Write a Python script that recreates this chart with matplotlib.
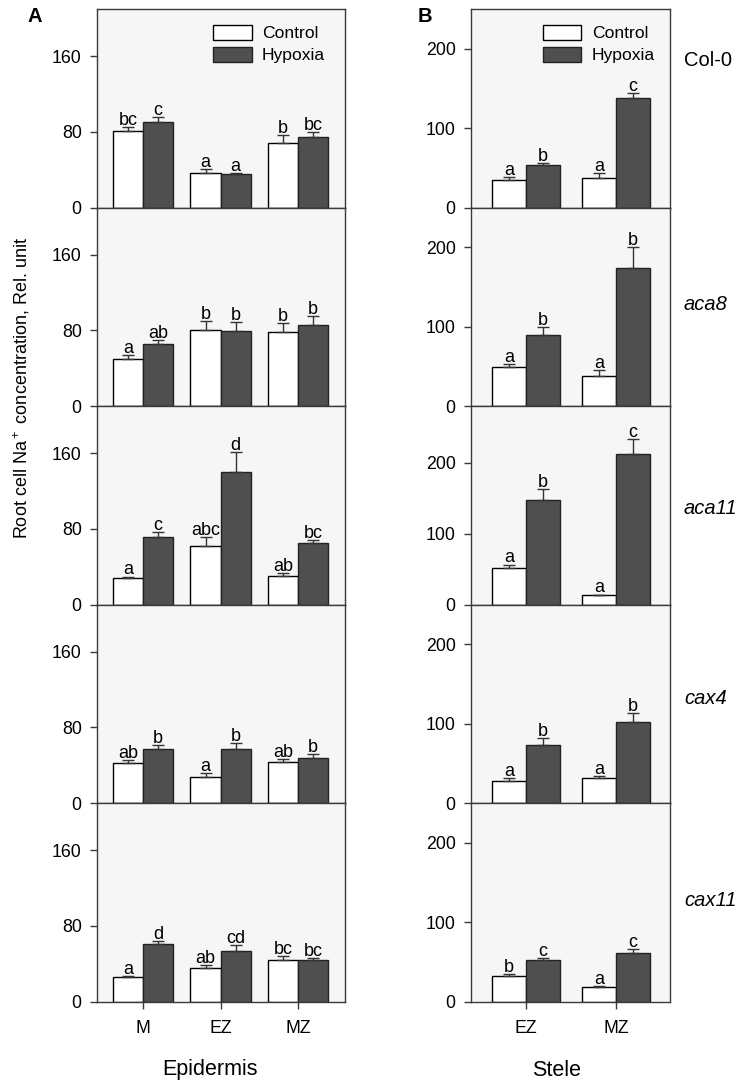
import matplotlib
matplotlib.use("Agg")
import matplotlib.pyplot as plt
from matplotlib.patches import Patch
import numpy as np

plt.rcParams['font.family'] = ['Liberation Sans', 'DejaVu Sans']
plt.rcParams['mathtext.default'] = 'regular'

# data
genotypes = ['Col-0', 'aca8', 'aca11', 'cax4', 'cax11']
epi_zones = ['M', 'EZ', 'MZ']
stele_zones = ['EZ', 'MZ']

epi_ctrl = [[81.4, 36.9, 67.9], [49.7, 80.3, 78.2], [27.6, 62.1, 30.4], [42.0, 27.6, 43.1], [25.6, 35.2, 43.7]]
epi_ctrl_err = [[4.2, 3.6, 8.5], [4.0, 9.5, 10.0], [2.0, 9.0, 3.0], [3.5, 3.9, 3.2], [1.0, 3.2, 4.3]]
epi_hyp = [[90.7, 35.2, 75.0], [66.0, 79.0, 85.6], [71.0, 140.0, 65.4], [57.2, 57.2, 47.7], [60.8, 52.9, 44.4]]
epi_hyp_err = [[5.0, 1.5, 5.0], [4.2, 10.0, 9.5], [5.7, 21.0, 2.6], [4.3, 5.8, 4.3], [2.8, 6.4, 1.8]]
epi_let_ctrl = [['bc', 'a', 'b'], ['a', 'b', 'b'], ['a', 'abc', 'ab'], ['ab', 'a', 'ab'], ['a', 'ab', 'bc']]
epi_let_hyp = [['c', 'a', 'bc'], ['ab', 'b', 'b'], ['c', 'd', 'bc'], ['b', 'b', 'b'], ['d', 'cd', 'bc']]

ste_ctrl = [[35.2, 37.2], [48.8, 38.3], [50.8, 13.1], [27.4, 31.1], [32.3, 18.0]]
ste_ctrl_err = [[3.0, 6.0], [3.8, 6.7], [5.6, 1.0], [4.0, 2.5], [2.0, 1.7]]
ste_hyp = [[53.2, 138.4], [89.2, 173.3], [147.7, 212.7], [72.8, 101.4], [51.7, 60.9]]
ste_hyp_err = [[2.5, 6.0], [9.7, 26.5], [15.5, 20.7], [8.8, 11.8], [3.3, 4.7]]
ste_let_ctrl = [['a', 'a'], ['a', 'a'], ['a', 'a'], ['a', 'a'], ['b', 'a']]
ste_let_hyp = [['b', 'c'], ['b', 'b'], ['b', 'c'], ['b', 'b'], ['c', 'c']]

epi_ylim = [210, 210, 210, 210, 210]
ste_ylim = [250, 250, 280, 250, 250]

W, H = 742, 1087
fig = plt.figure(figsize=(W / 100, H / 100), dpi=100)
fig.patch.set_facecolor('white')

top_px = 9
panel_h = 198.5
ctrl_col = 'white'
hyp_col = '#4f4f4f'
spine_col = '#3a3a3a'
face = '#f6f6f6'


def draw_panel(ax, ctrl, cerr, hyp, herr, lc, lh, width):
    x = np.arange(len(ctrl))
    ax.bar(x - width / 2, ctrl, width, color=ctrl_col, edgecolor='black', linewidth=1.0, zorder=2)
    ax.bar(x + width / 2, hyp, width, color=hyp_col, edgecolor='#222222', linewidth=1.0, zorder=2)
    zeros = np.zeros(len(ctrl))
    ax.errorbar(x - width / 2, ctrl, yerr=[zeros, cerr], fmt='none', ecolor='#333333',
                elinewidth=1.0, capsize=4.5, capthick=1.0, zorder=3)
    ax.errorbar(x + width / 2, hyp, yerr=[zeros, herr], fmt='none', ecolor='#333333',
                elinewidth=1.0, capsize=4.5, capthick=1.0, zorder=3)
    for i in range(len(ctrl)):
        ax.annotate(lc[i], (x[i] - width / 2, ctrl[i] + cerr[i]), xytext=(0, 1.5),
                    textcoords='offset points', ha='center', va='baseline', fontsize=13)
        ax.annotate(lh[i], (x[i] + width / 2, hyp[i] + herr[i]), xytext=(0, 1.5),
                    textcoords='offset points', ha='center', va='baseline', fontsize=13)


def style(ax):
    ax.set_facecolor(face)
    for s in ax.spines.values():
        s.set_color(spine_col)
        s.set_linewidth(1.0)
    ax.tick_params(axis='y', direction='out', length=5, width=1, color=spine_col,
                   labelsize=12.8, pad=6, right=False)
    ax.tick_params(axis='x', direction='out', length=5, width=1, color=spine_col,
                   labelsize=12.8, pad=8, top=False)


left_x0, left_w = 97, 248
right_x0, right_w = 471, 199

for i, g in enumerate(genotypes):
    bottom = 1 - (top_px + (i + 1) * panel_h) / H
    h = panel_h / H

    axl = fig.add_axes([left_x0 / W, bottom, left_w / W, h])
    style(axl)
    draw_panel(axl, epi_ctrl[i], epi_ctrl_err[i], epi_hyp[i], epi_hyp_err[i],
               epi_let_ctrl[i], epi_let_hyp[i], 0.39)
    axl.set_xlim(-0.595, 2.605)
    axl.set_ylim(0, epi_ylim[i])
    axl.set_yticks([0, 80, 160])

    axr = fig.add_axes([right_x0 / W, bottom, right_w / W, h])
    style(axr)
    draw_panel(axr, ste_ctrl[i], ste_ctrl_err[i], ste_hyp[i], ste_hyp_err[i],
               ste_let_ctrl[i], ste_let_hyp[i], 0.38)
    axr.set_xlim(-0.61, 1.6)
    axr.set_ylim(0, ste_ylim[i])
    axr.set_yticks([0, 100, 200])

    if i == len(genotypes) - 1:
        axl.set_xticks(range(len(epi_zones)))
        axl.set_xticklabels(epi_zones)
        axr.set_xticks(range(len(stele_zones)))
        axr.set_xticklabels(stele_zones)
    else:
        axl.set_xticks([])
        axr.set_xticks([])

    if i == 0:
        handles = [Patch(facecolor=ctrl_col, edgecolor='black', linewidth=1.0),
                   Patch(facecolor=hyp_col, edgecolor='#222222', linewidth=1.0)]
        for ax, xa in [(axl, 0.468), (axr, 0.36)]:
            ax.legend(handles, ['Control', 'Hypoxia'], loc='upper left', bbox_to_anchor=(xa, 0.92),
                      frameon=False, fontsize=12.6, handlelength=2.2, handleheight=0.95,
                      handletextpad=0.6, labelspacing=0.3, borderpad=0, borderaxespad=0)

    name_y = [60, 305, 508, 698, 900][i]
    fig.text(684 / W, 1 - name_y / H, g, fontsize=14.5, ha='left', va='center',
             style='normal' if g == 'Col-0' else 'italic')

fig.text(35 / W, 1 - 16 / H, 'A', fontsize=14.5, fontweight='bold', ha='center', va='center')
fig.text(425 / W, 1 - 16 / H, 'B', fontsize=14.5, fontweight='bold', ha='center', va='center')
fig.text(210 / W, 1 - 1070 / H, 'Epidermis', fontsize=15.5, ha='center', va='center')
fig.text(557 / W, 1 - 1070 / H, 'Stele', fontsize=15.5, ha='center', va='center')
fig.text(22 / W, 1 - 388 / H, 'Root cell Na$^+$ concentration, Rel. unit', fontsize=13,
         rotation=90, ha='center', va='center')

fig.savefig('out.png', dpi=100, facecolor='white')
